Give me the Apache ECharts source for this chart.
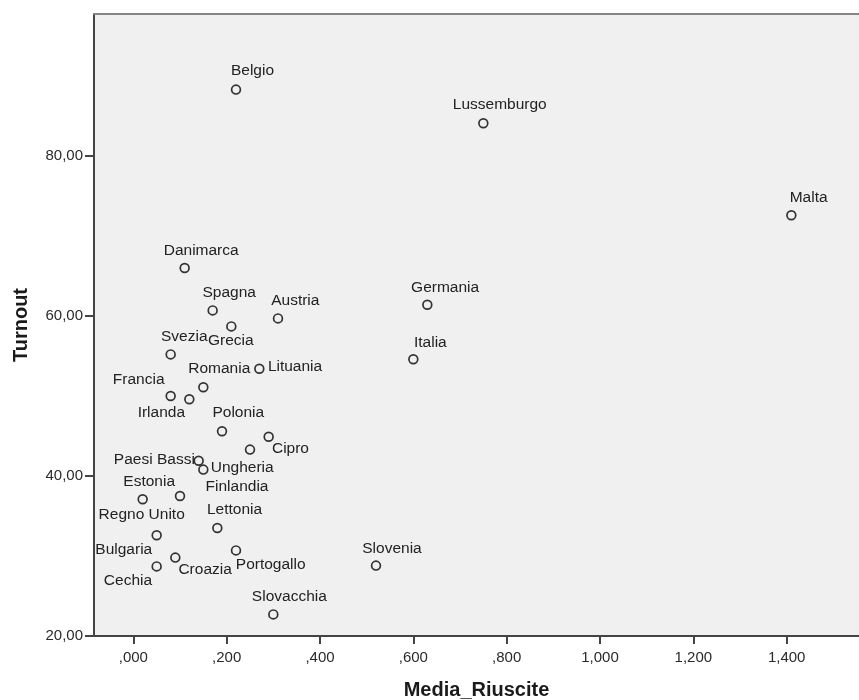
<!DOCTYPE html>
<html>
<head>
<meta charset="utf-8">
<script src="https://cdn.jsdelivr.net/npm/echarts@6/dist/echarts.min.js"></script>
<style>
html,body{margin:0;padding:0;background:#fff;}
#c{width:859px;height:700px;}
</style>
</head>
<body>
<div id="c"></div>
<script>
// ---- data ----
const countries = ["Belgio","Lussemburgo","Malta","Danimarca","Spagna","Grecia","Austria","Germania","Italia","Svezia","Lituania","Romania","Francia","Irlanda","Polonia","Cipro","Ungheria","Paesi Bassi","Finlandia","Regno Unito","Estonia","Lettonia","Bulgaria","Portogallo","Croazia","Cechia","Slovenia","Slovacchia"];
const mediaRiuscite = [0.22,0.75,1.41,0.11,0.17,0.21,0.31,0.63,0.60,0.08,0.27,0.15,0.08,0.12,0.19,0.29,0.25,0.14,0.15,0.02,0.10,0.18,0.05,0.22,0.09,0.05,0.52,0.30];
const turnout = [88.3,84.1,72.6,66.0,60.7,58.7,59.7,61.4,54.6,55.2,53.4,51.1,50.0,49.6,45.6,44.9,43.3,41.9,40.8,37.1,37.5,33.5,32.6,30.7,29.8,28.7,28.8,22.7];
const xTicks = [0,0.2,0.4,0.6,0.8,1.0,1.2,1.4];
const yTicks = [20,40,60,80];

// ---- label placement (style only) ----
const labelOffsets = [[16.5,-18.5],[16.4,-18],[17.3,-17.5],[16.5,-17.3],[16.5,-17.3],[-0.5,14.8],[17.3,-18],[17.8,-17.5],[17,-16.3],[13.6,-17.3],[35.7,-2.3],[15.9,-18.6],[-32,-16],[-28,13.5],[16.3,-18],[21.8,12],[-7.8,18],[-44.3,-0.7],[33.7,17],[-1,15.4],[-30.8,-14.3],[17.2,-18.3],[-32.9,14.7],[34.7,13.9],[29.8,12.5],[-28.7,14.2],[16,-16.6],[16,-17.3]];

const FONT = "'Liberation Sans', Arial, sans-serif";
function fmtX(v){
  let s = Math.abs(v).toFixed(3).replace('.', ',');
  if (s.startsWith('0,')) s = s.substring(1);
  return s;
}
function fmtY(v){ return v.toFixed(2).replace('.', ','); }

const xMin = -0.08428, xMax = -0.08428 + 765/466.67;
const yMin = 20, yMax = 20 + 622/8;

const points = countries.map((n,i)=>({
  name:n,
  value:[mediaRiuscite[i], turnout[i]],
  label:{offset:labelOffsets[i]}
}));

const chart = echarts.init(document.getElementById('c'), null, {renderer:'canvas'});
chart.setOption({
  animation:false,
  backgroundColor:'#ffffff',
  grid:{left:94,right:0,top:14,bottom:64,show:true,backgroundColor:'#f0f0f0',borderWidth:0,containLabel:false,outerBoundsMode:'none'},
  xAxis:[{
    type:'value',min:xMin,max:xMax,position:'bottom',
    name:'Media_Riuscite',nameLocation:'middle',nameGap:44,
    nameTextStyle:{fontFamily:FONT,fontSize:20,fontWeight:'bold',color:'#1a1a1a'},
    axisLine:{show:true,onZero:false,lineStyle:{color:'#444',width:2}},
    axisTick:{show:true,length:8,customValues:xTicks,lineStyle:{color:'#444',width:2}},
    axisLabel:{show:true,customValues:xTicks,formatter:fmtX,margin:14,fontFamily:FONT,fontSize:15,color:'#2a2a2a'},
    splitLine:{show:false}
  },{
    type:'value',min:xMin,max:xMax,position:'top',
    axisLine:{show:true,onZero:false,lineStyle:{color:'#858585',width:2}},
    axisTick:{show:false},axisLabel:{show:false},splitLine:{show:false}
  }],
  yAxis:{
    type:'value',min:yMin,max:yMax,
    name:'Turnout',nameLocation:'middle',nameGap:63,
    nameTextStyle:{fontFamily:FONT,fontSize:20,fontWeight:'bold',color:'#1a1a1a'},
    axisLine:{show:true,onZero:false,lineStyle:{color:'#444',width:2}},
    axisTick:{show:true,length:9,customValues:yTicks,lineStyle:{color:'#444',width:2}},
    axisLabel:{show:true,customValues:yTicks,formatter:fmtY,margin:11,fontFamily:FONT,fontSize:15,color:'#2a2a2a'},
    splitLine:{show:false}
  },
  series:[{
    type:'scatter',
    xAxisIndex:0,
    symbol:'circle',symbolSize:8.8,
    itemStyle:{color:'rgba(0,0,0,0)',borderColor:'#333',borderWidth:1.7,opacity:1},
    label:{show:true,position:'inside',formatter:'{b}',fontFamily:FONT,fontSize:15.5,color:'#222',align:'center',verticalAlign:'middle'},
    emphasis:{disabled:true},
    data:points
  }]
});
</script>
</body>
</html>
